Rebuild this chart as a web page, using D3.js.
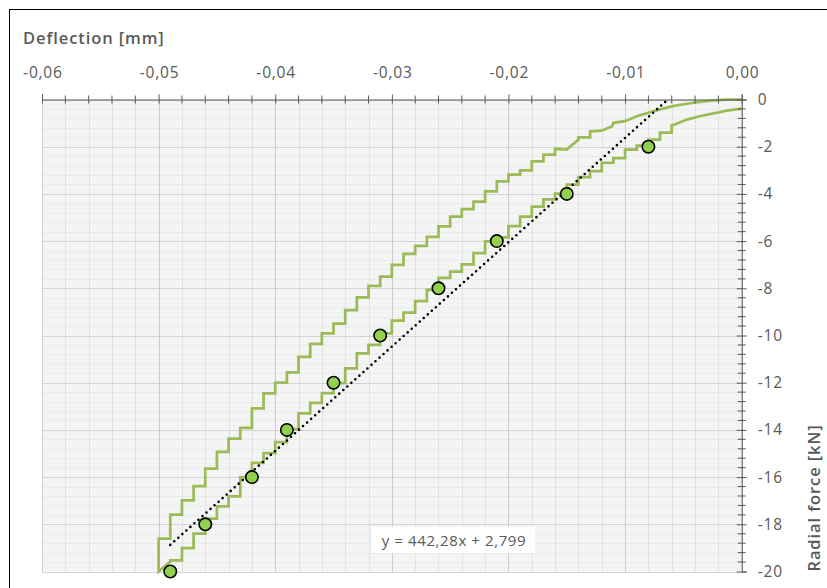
<!DOCTYPE html>
<html>
<head>
<meta charset="utf-8">
<script src="https://cdn.jsdelivr.net/npm/d3@7"></script>
<style>
  body { margin: 0; background: #fff; }
  svg text { font-family: "Open Sans", Lato, sans-serif; fill: #595959; }
</style>
</head>
<body>
<div id="chart"></div>
<script>
// measured points (deflection in mm, radial force in kN)
const pointDefl = [-0.008, -0.015, -0.021, -0.026, -0.031, -0.035, -0.039, -0.042, -0.046, -0.049];
const pointForce = [-2, -4, -6, -8, -10, -12, -14, -16, -18, -20];

// loading branch, smooth start near zero
const loadSmoothDefl = [0, -0.0013, -0.0021, -0.0036, -0.0047, -0.0059];
const loadSmoothForce = [-0.39, -0.47, -0.56, -0.71, -0.85, -1.09];

// loading branch, deflection levels and force where the reading steps on
const loadStepDefl = [-0.006, -0.007, -0.008, -0.009, -0.010, -0.011, -0.012, -0.013, -0.014, -0.015,
  -0.016, -0.017, -0.018, -0.019, -0.020, -0.021, -0.022, -0.023, -0.024, -0.025,
  -0.026, -0.027, -0.028, -0.029, -0.030, -0.031, -0.032, -0.033, -0.034, -0.035,
  -0.036, -0.037, -0.038, -0.039, -0.040, -0.041, -0.042, -0.043, -0.044, -0.045,
  -0.046, -0.047, -0.048, -0.049];
const loadStepForce = [-1.40, -1.70, -1.95, -2.12, -2.48, -2.69, -3.03, -3.29, -3.61, -3.99,
  -4.23, -4.54, -4.96, -5.37, -5.84, -6.01, -6.51, -6.99, -7.29, -7.56,
  -8.07, -8.54, -9.03, -9.37, -9.91, -10.40, -10.76, -11.39, -12.02, -12.44,
  -12.85, -13.30, -13.97, -14.52, -14.98, -15.40, -16.01, -16.82, -17.24, -17.76,
  -18.40, -19.01, -19.53, -19.58];

const peakDefl = -0.050;
const peakForce = -20;

// unloading branch, stepped part
const unloadStepDefl = [-0.050, -0.049, -0.048, -0.047, -0.046, -0.045, -0.044, -0.043, -0.042, -0.041,
  -0.040, -0.039, -0.038, -0.037, -0.036, -0.035, -0.034, -0.033, -0.032, -0.031,
  -0.030, -0.029, -0.028, -0.027, -0.026, -0.025, -0.024, -0.023, -0.022, -0.021,
  -0.020, -0.019, -0.018, -0.017, -0.016];
const unloadStepForce = [-18.61, -17.59, -16.99, -16.38, -15.64, -14.93, -14.37, -13.91, -13.09, -12.45,
  -12.00, -11.56, -10.91, -10.36, -9.91, -9.50, -8.92, -8.38, -7.90, -7.50,
  -7.01, -6.54, -6.20, -5.82, -5.38, -4.96, -4.64, -4.33, -3.89, -3.47,
  -3.18, -3.00, -2.62, -2.34, -2.09];

// unloading branch, smooth end back to zero
const unloadSmoothDefl = [-0.0150, -0.0140, -0.0140, -0.0130, -0.0130, -0.0120, -0.0111, -0.0110, -0.0100,
  -0.0090, -0.0080, -0.0070, -0.0059, -0.0047, -0.0036, -0.0024, -0.0013, 0];
const unloadSmoothForce = [-2.12, -1.70, -1.60, -1.60, -1.35, -1.32, -1.13, -0.99, -0.92,
  -0.71, -0.56, -0.42, -0.28, -0.18, -0.10, -0.04, -0.01, 0];

// linear trendline of the measured points
const trendSlope = 442.28;
const trendIntercept = 2.799;
const trendDefl = [-0.049, -0.0063];
const trendLabel = "y = 442,28x + 2,799";

const xTicks = [-0.06, -0.05, -0.04, -0.03, -0.02, -0.01, 0];
const yTicks = [0, -2, -4, -6, -8, -10, -12, -14, -16, -18, -20];

const width = 827, height = 588;
const plotLeft = 42, plotRight = 741.7, plotTop = 99.5, plotBottom = 571.5;

const svg = d3.select("#chart").append("svg")
  .attr("width", width)
  .attr("height", height);

svg.append("rect")
  .attr("x", 9.5).attr("y", 9.5)
  .attr("width", 830).attr("height", 600)
  .attr("fill", "#fff")
  .attr("stroke", "#000");

const x = d3.scaleLinear().domain([-0.06, 0]).range([plotLeft, plotRight]);
const y = d3.scaleLinear().domain([-20, 0]).range([plotBottom, plotTop]);

const locale = d3.formatLocale({ decimal: ",", thousands: ".", grouping: [3], currency: ["", ""], minus: "-" });

// plot area and grid
svg.append("rect")
  .attr("x", plotLeft).attr("y", plotTop)
  .attr("width", plotRight - plotLeft).attr("height", plotBottom - plotTop)
  .attr("fill", "#f4f4f4");

const grid = svg.append("g");
const yMinor = d3.range(-20, 0.001, 0.4);
grid.selectAll("line.hmin").data(yMinor).enter().append("line")
  .attr("x1", plotLeft).attr("x2", plotRight)
  .attr("y1", d => Math.round(y(d)) + 0.5).attr("y2", d => Math.round(y(d)) + 0.5)
  .attr("stroke", "#ebebeb");
grid.selectAll("line.vmin").data(x.ticks(30)).enter().append("line")
  .attr("y1", plotTop).attr("y2", plotBottom)
  .attr("x1", d => Math.round(x(d)) + 0.5).attr("x2", d => Math.round(x(d)) + 0.5)
  .attr("stroke", "#e2e2e2");
grid.selectAll("line.hmaj").data(yTicks).enter().append("line")
  .attr("x1", plotLeft).attr("x2", plotRight)
  .attr("y1", d => Math.round(y(d)) + 0.5).attr("y2", d => Math.round(y(d)) + 0.5)
  .attr("stroke", "#d4d4d4");
grid.selectAll("line.vmaj").data(xTicks).enter().append("line")
  .attr("y1", plotTop).attr("y2", plotBottom)
  .attr("x1", d => Math.round(x(d)) + 0.5).attr("x2", d => Math.round(x(d)) + 0.5)
  .attr("stroke", "#cccccc");

// hysteresis loop built from the branches
const loop = [];
loadSmoothDefl.forEach((d, i) => loop.push([d, loadSmoothForce[i]]));
loadStepDefl.forEach((d, i) => {
  loop.push([d, i ? loadStepForce[i - 1] : loadSmoothForce[loadSmoothForce.length - 1]]);
  loop.push([d, loadStepForce[i]]);
});
unloadStepDefl.forEach((d, i) => {
  loop.push([d, i ? unloadStepForce[i - 1] : peakForce]);
  loop.push([d, unloadStepForce[i]]);
});
unloadSmoothDefl.forEach((d, i) => loop.push([d, unloadSmoothForce[i]]));

const line = d3.line().x(d => x(d[0])).y(d => y(d[1]));

svg.append("path")
  .datum(loop)
  .attr("d", line)
  .attr("fill", "none")
  .attr("stroke", "#9bbb59")
  .attr("stroke-width", 2.75)
  .attr("stroke-linejoin", "miter");

// trendline
svg.append("path")
  .datum(trendDefl.map(d => [d, trendSlope * d + trendIntercept]))
  .attr("d", line)
  .attr("fill", "none")
  .attr("stroke", "#000")
  .attr("stroke-width", 2.6)
  .attr("stroke-linecap", "round")
  .attr("stroke-dasharray", "0 5.4");

// measured points
svg.append("g")
  .selectAll("circle")
  .data(pointDefl.map((d, i) => [d, pointForce[i]]))
  .enter().append("circle")
    .attr("cx", d => x(d[0]))
    .attr("cy", d => y(d[1]))
    .attr("r", 6.2)
    .attr("fill", "#92d050")
    .attr("stroke", "#000")
    .attr("stroke-width", 1.6);

// axes with crossing ticks
const xAxis = svg.append("g")
  .attr("transform", `translate(0,${plotTop})`)
  .call(d3.axisTop(x).tickValues(xTicks).tickFormat(locale.format(".2f")).tickSize(5).tickPadding(17));
xAxis.selectAll(".tick line").attr("y1", 4).attr("y2", -5);
xAxis.append("g").selectAll("line")
  .data(x.ticks(30).filter(d => !xTicks.some(t => Math.abs(t - d) < 1e-9)))
  .enter().append("line")
    .attr("x1", d => x(d)).attr("x2", d => x(d))
    .attr("y1", -4).attr("y2", 4)
    .attr("stroke", "#595959");

const yAxis = svg.append("g")
  .attr("transform", `translate(${plotRight},0)`)
  .call(d3.axisRight(y).tickValues(yTicks).tickFormat(locale.format("d")).tickSize(5).tickPadding(11));
yAxis.selectAll(".tick line").attr("x1", -5).attr("x2", 5);
yAxis.append("g").selectAll("line")
  .data(yMinor.filter(d => !yTicks.some(t => Math.abs(t - d) < 1e-6)))
  .enter().append("line")
    .attr("y1", d => y(d)).attr("y2", d => y(d))
    .attr("x1", -4).attr("x2", 4)
    .attr("stroke", "#595959");

svg.selectAll(".domain").attr("stroke", "#595959");
svg.selectAll(".tick line").attr("stroke", "#595959");
svg.selectAll(".tick text")
  .style("font-size", "15.5px")
  .style("letter-spacing", "0.8px")
  .attr("fill", "#595959");
xAxis.selectAll(".tick text").attr("dx", "0.4px");
yAxis.selectAll(".tick text").attr("text-anchor", "start");

// trendline label
const labelG = svg.append("g");
labelG.append("rect")
  .attr("x", 372).attr("y", 527)
  .attr("width", 163).attr("height", 26)
  .attr("fill", "#fff");
labelG.append("text")
  .attr("x", 454).attr("y", 545.5)
  .attr("text-anchor", "middle")
  .style("font-size", "15px")
  .style("letter-spacing", "0.6px")
  .text(trendLabel);

// axis titles
svg.append("text")
  .attr("x", 23).attr("y", 43.5)
  .style("font-size", "16.5px")
  .style("font-weight", 600)
  .style("letter-spacing", "0.9px")
  .text("Deflection [mm]");

svg.append("text")
  .attr("transform", "translate(820,498) rotate(-90)")
  .attr("text-anchor", "middle")
  .style("font-size", "16.5px")
  .style("font-weight", 600)
  .style("letter-spacing", "0.9px")
  .text("Radial force [kN]");
</script>
</body>
</html>
